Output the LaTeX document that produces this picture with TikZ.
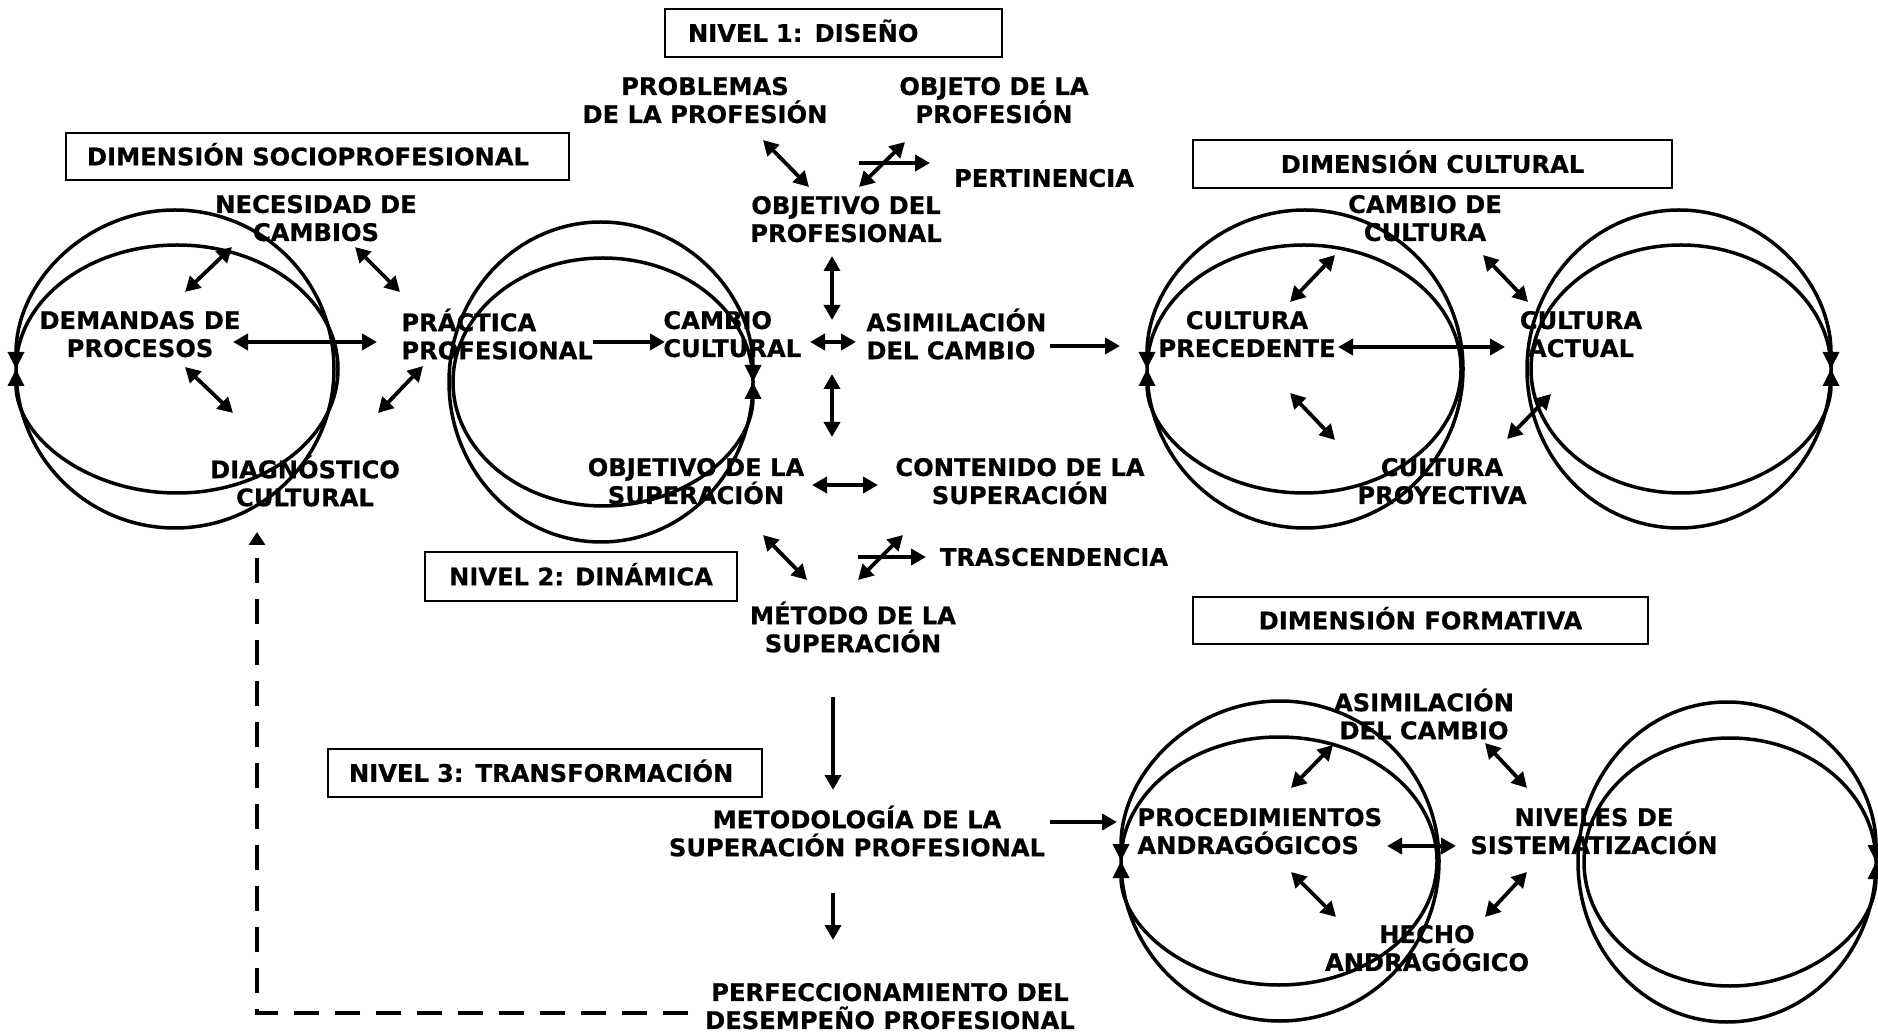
\documentclass[tikz,border=0pt]{standalone}
\usepackage{fontspec}
\setmainfont{DejaVu Sans}[BoldFeatures={FakeBold=0.6}]
\usetikzlibrary{arrows.meta}
\newcommand\tstrut{\rule[-0.25em]{0pt}{1.23em}}
\begin{document}
\begin{tikzpicture}[x=0.5pt,y=-0.5pt,
  txt/.style={font={\bfseries\fontsize{12.1pt}{14pt}\selectfont\lineskiplimit=-100pt},
    align=center, inner sep=0pt, execute at begin node=\tstrut, execute at end node=\tstrut},
  ltxt/.style={txt, align=left, anchor=west},
  boxst/.style={draw, line width=0.6pt, inner sep=0pt, align=center,
    font={\bfseries\fontsize{12.1pt}{14pt}\selectfont}, execute at begin node=\tstrut},
  lbox/.style={boxst, align=left, inner xsep=10.5pt},
  ell/.style={line width=1.75pt, -{Triangle[length=8.5pt,width=8pt]}},
  arr/.style={line width=2.3pt, -{Triangle[length=7.5pt,width=8pt]}},
  darr/.style={line width=2.3pt, {Triangle[length=7.5pt,width=8pt]}-{Triangle[length=7.5pt,width=8pt]}},
  ddiag/.style={darr, line width=1.9pt},
  dsh/.style={line width=2.4pt, dash pattern=on 12.5pt off 8pt, -{Triangle[length=6.5pt,width=8pt]}}
]
\useasboundingbox (0,0) rectangle (1878,1036);

% ---------- boxes ----------
\node[lbox, minimum width=168.5pt, minimum height=24pt, text width=145.5pt, inner xsep=11.5pt] (niv1) at (833.5,33) {NIVEL 1: DISEÑO};
\node[lbox, minimum width=251.5pt, minimum height=23.5pt, text width=230.5pt] (dsoc) at (317.5,156.5) {DIMENSIÓN SOCIOPROFESIONAL};
\node[boxst, minimum width=239.5pt, minimum height=24pt] (dcul) at (1432.5,164) {DIMENSIÓN CULTURAL};
\node[boxst, minimum width=156pt, minimum height=24.5pt] (niv2) at (581,576.5) {NIVEL 2: DINÁMICA};
\node[boxst, minimum width=227.5pt, minimum height=23.5pt] (dfor) at (1420.5,620.5) {DIMENSIÓN FORMATIVA};
\node[lbox, minimum width=217pt, minimum height=24pt, text width=196pt] (niv3) at (545,773) {NIVEL 3: TRANSFORMACIÓN};

% ---------- ellipses ----------
% socioprofesional
\draw[ell] (16,369) arc[start angle=180, end angle=540, x radius=79.5pt, y radius=79.5pt];
\draw[ell] (16,369) arc[start angle=180, end angle=-180, x radius=80.5pt, y radius=62pt];
% practica / cambio
\draw[ell] (753,382) arc[start angle=0, end angle=-360, x radius=76pt, y radius=80pt];
\draw[ell] (753,382) arc[start angle=0, end angle=360, x radius=75pt, y radius=62pt];
% cultura precedente
\draw[ell] (1147,369) arc[start angle=180, end angle=540, x radius=79pt, y radius=79.5pt];
\draw[ell] (1147,369) arc[start angle=180, end angle=-180, x radius=78.5pt, y radius=62pt];
% cultura actual
\draw[ell] (1831,369) arc[start angle=0, end angle=-360, x radius=76pt, y radius=79.5pt];
\draw[ell] (1831,369) arc[start angle=0, end angle=360, x radius=75pt, y radius=62pt];
% procedimientos
\draw[ell] (1121,861) arc[start angle=180, end angle=540, x radius=79.5pt, y radius=80pt];
\draw[ell] (1121,861) arc[start angle=180, end angle=-180, x radius=79pt, y radius=62pt];
% niveles
\draw[ell] (1876,862) arc[start angle=0, end angle=-360, x radius=74.5pt, y radius=80pt];
\draw[ell] (1876,862) arc[start angle=0, end angle=360, x radius=73pt, y radius=62pt];

% ---------- texts ----------
\node[txt] (prob) at (705,103) {PROBLEMAS\\DE LA PROFESIÓN};
\node[txt] (objeto) at (994,103) {OBJETO DE LA\\PROFESIÓN};
\node[txt] (pert) at (1044,178) {PERTINENCIA};
\node[txt] (objprof) at (846,222) {OBJETIVO DEL\\PROFESIONAL};
\node[txt] (necesidad) at (316,221) {NECESIDAD DE\\CAMBIOS};
\node[txt] (cambiocult) at (1425,221) {CAMBIO DE\\CULTURA};
\node[txt] (demandas) at (140,337) {DEMANDAS DE\\PROCESOS};
\node[ltxt] (practica) at (401,337) {PRÁCTICA\\PROFESIONAL};
\node[ltxt] (cambio) at (663,337) {CAMBIO\\CULTURAL};
\node[ltxt] (asim) at (866,337) {ASIMILACIÓN\\DEL CAMBIO};
\node[txt] (precedente) at (1247,337) {CULTURA\\PRECEDENTE};
\node[txt] (actual) at (1581,337) {CULTURA\\ACTUAL};
\node[txt] (diag) at (305,484) {DIAGNÓSTICO\\CULTURAL};
\node[txt] (objsup) at (696,484) {OBJETIVO DE LA\\SUPERACIÓN};
\node[txt] (contenido) at (1020,484) {CONTENIDO DE LA\\SUPERACIÓN};
\node[txt] (proyectiva) at (1442,484) {CULTURA\\PROYECTIVA};
\node[txt] (trasc) at (1054,557) {TRASCENDENCIA};
\node[txt] (metodo) at (853,630) {MÉTODO DE LA\\SUPERACIÓN};
\node[txt] (asim2) at (1424,717) {ASIMILACIÓN\\DEL CAMBIO};
\node[txt] (metodologia) at (857,834) {METODOLOGÍA DE LA\\SUPERACIÓN PROFESIONAL};
\node[ltxt] (proced) at (1137,834) {PROCEDIMIENTOS\\ANDRAGÓGICOS};
\node[txt] (niveles) at (1594,834) {NIVELES DE\\SISTEMATIZACIÓN};
\node[txt] (hecho) at (1427,951) {HECHO\\ANDRAGÓGICO};
\node[txt] (perf) at (890,1009) {PERFECCIONAMIENTO DEL\\DESEMPEÑO PROFESIONAL};

% ---------- connectors: socioprofesional ----------
\draw[ddiag] ([shift={(-84,26)}]necesidad.center) -- ([shift={(45,-45)}]demandas.center);
\draw[ddiag] ([shift={(39,26)}]necesidad.center) -- ([shift={(-1,-45)}]practica.west);
\draw[darr] ([shift={(93,5)}]demandas.center) -- ([shift={(-24,5)}]practica.west);
\draw[ddiag] ([shift={(45,30)}]demandas.center) -- ([shift={(-72,-71)}]diag.center);
\draw[ddiag] ([shift={(22,29)}]practica.west) -- ([shift={(73,-71)}]diag.center);
\draw[arr] ([shift={(192,5)}]practica.west) -- ([shift={(2,5)}]cambio.west);

% ---------- connectors: centre column ----------
\draw[darr] ([shift={(147,5)}]cambio.west) -- ([shift={(-10,5)}]asim.west);
\draw[darr] ([shift={(-14,34)}]objprof.center) -- ([shift={(-34,-17)}]asim.west);
\draw[darr] ([shift={(136,-110)}]objsup.center) -- ([shift={(136,-47)}]objsup.center);
\draw[arr] ([shift={(184,9)}]asim.west) -- ([shift={(-127,9)}]precedente.center);
\draw[darr] ([shift={(116,1)}]objsup.center) -- ([shift={(-142,1)}]contenido.center);
\draw[ddiag] ([shift={(67,51)}]objsup.center) -- ([shift={(-46,-50)}]metodo.center);
\draw[ddiag] ([shift={(5,-50)}]metodo.center) -- ([shift={(-151,-22)}]trasc.center);
\draw[arr] ([shift={(5,-73)}]metodo.center) -- ([shift={(-128,0)}]trasc.center);
\draw[ddiag] ([shift={(58,37)}]prob.center) -- ([shift={(-37,-35)}]objprof.center);
\draw[ddiag] ([shift={(-89,39)}]objeto.center) -- ([shift={(13,-35)}]objprof.center);
\draw[arr] ([shift={(13,-59)}]objprof.center) -- ([shift={(-114,-15)}]pert.center);
\draw[arr] ([shift={(-20,67)}]metodo.center) -- ([shift={(-24,-44)}]metodologia.center);
\draw[arr] ([shift={(-24,59)}]metodologia.center) -- ([shift={(-57,-69)}]perf.center);
\draw[arr] ([shift={(193,-12)}]metodologia.center) -- ([shift={(-20,-12)}]proced.west);
\draw[dsh] ([shift={(-202,4)}]perf.center) -| ([shift={(-48,48)}]diag.center);

% ---------- connectors: cultural ----------
\draw[ddiag] ([shift={(-90,34)}]cambiocult.center) -- ([shift={(43,-35)}]precedente.center);
\draw[ddiag] ([shift={(58,34)}]cambiocult.center) -- ([shift={(-53,-35)}]actual.center);
\draw[darr] ([shift={(91,10)}]precedente.center) -- ([shift={(-76,10)}]actual.center);
\draw[ddiag] ([shift={(43,56)}]precedente.center) -- ([shift={(-107,-44)}]proyectiva.center);
\draw[ddiag] ([shift={(-30,57)}]actual.center) -- ([shift={(65,-45)}]proyectiva.center);

% ---------- connectors: formativa ----------
\draw[ddiag] ([shift={(-91,28)}]asim2.center) -- ([shift={(154,-46)}]proced.west);
\draw[ddiag] ([shift={(61,26)}]asim2.center) -- ([shift={(-67,-46)}]niveles.center);
\draw[darr] ([shift={(250,12)}]proced.west) -- ([shift={(-138,12)}]niveles.center);
\draw[ddiag] ([shift={(154,38)}]proced.west) -- ([shift={(-91,-34)}]hecho.center);
\draw[ddiag] ([shift={(-67,38)}]niveles.center) -- ([shift={(58,-34)}]hecho.center);
\end{tikzpicture}
\end{document}
